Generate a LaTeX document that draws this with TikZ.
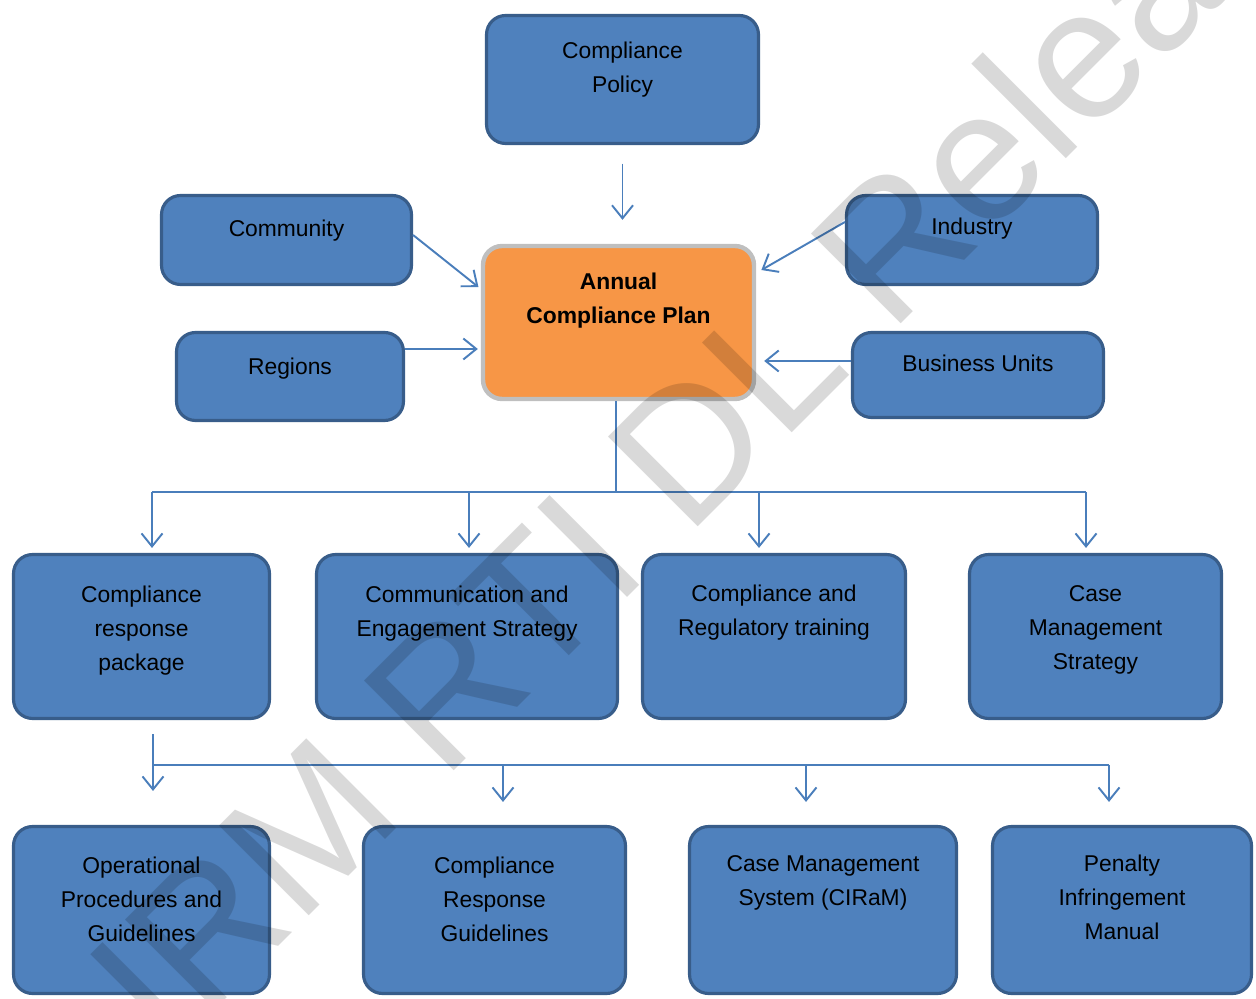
\documentclass[tikz,border=0pt]{standalone}
\usepackage{fontspec}
\setmainfont{Liberation Sans}
\usetikzlibrary{arrows.meta,positioning}

\definecolor{boxfill}{HTML}{4F81BD}
\definecolor{boxline}{HTML}{385D8A}
\definecolor{planfill}{HTML}{F79646}
\definecolor{planline}{HTML}{BFBFBF}
\definecolor{linkcol}{HTML}{4A7EBB}

\tikzset{
  box/.style={draw=boxline, fill=boxfill, line width=1.8pt, rounded corners=0.38cm, inner sep=0pt},
  plan/.style={draw=planline, fill=planfill, line width=2.5pt, rounded corners=0.38cm, inner sep=0pt},
  lbl/.style={align=center, inner sep=0pt, font=\fontsize{13}{19.3}\selectfont},
  conn/.style={draw=linkcol, line width=1.1pt},
  arr/.style={conn, -{Straight Barb[length=0.26cm, width=0.42cm]}},
  wmark/.style={text=black, text opacity=0.15, inner sep=0pt, font=\fontsize{105}{105}\selectfont}
}

\begin{document}
\begin{tikzpicture}[x=0.02cm, y=-0.02cm]
  \useasboundingbox (0,0) rectangle (1256,999);

  % top part
  \node[box, minimum width=5.44cm, minimum height=2.56cm] (policy) at (622.5,79.5) {};
  \node[plan, minimum width=5.42cm, minimum height=3.06cm] (acp) at (618.5,322.5) {};
  \node[box, minimum width=5.0cm, minimum height=1.78cm] (community) at (286.5,240) {};
  \node[box, minimum width=4.54cm, minimum height=1.76cm] (regions) at (290,376.5) {};
  \node[box, minimum width=5.02cm, minimum height=1.78cm] (industry) at (972,240) {};
  \node[box, minimum width=5.02cm, minimum height=1.70cm] (business) at (978,375) {};

  \node[lbl, below=0.56cm of policy.north] (policytxt) {Compliance\\Policy};
  \node[lbl, below=0.58cm of acp.north, font=\fontsize{13}{19.3}\selectfont\bfseries] (acptxt) {Annual\\Compliance Plan};
  \node[lbl, below=0.52cm of community.north] (communitytxt) {Community};
  \node[lbl, below=0.54cm of regions.north] (regionstxt) {Regions};
  \node[lbl, below=0.48cm of industry.north] (industrytxt) {Industry};
  \node[lbl, below=0.48cm of business.north] (businesstxt) {Business Units};

  % middle row
  \node[box, minimum width=5.12cm, minimum height=3.28cm] (crp) at (141.5,636.5) {};
  \node[box, minimum width=6.02cm, minimum height=3.28cm] (ces) at (467,636.5) {};
  \node[box, minimum width=5.26cm, minimum height=3.28cm] (crt) at (774,636.5) {};
  \node[box, minimum width=5.04cm, minimum height=3.28cm] (cms) at (1095.5,636.5) {};

  \node[lbl, below=0.66cm of crp.north] (crptxt) {Compliance\\response\\package};
  \node[lbl, below=0.66cm of ces.north] (cestxt) {Communication and\\Engagement Strategy};
  \node[lbl, below=0.64cm of crt.north] (crttxt) {Compliance and\\Regulatory training};
  \node[lbl, below=0.64cm of cms.north] (cmstxt) {Case\\Management\\Strategy};

  % bottom row
  \node[box, minimum width=5.12cm, minimum height=3.34cm] (opg) at (141.5,910) {};
  \node[box, minimum width=5.24cm, minimum height=3.34cm] (crg) at (494.5,910) {};
  \node[box, minimum width=5.34cm, minimum height=3.34cm] (cirm) at (823,910) {};
  \node[box, minimum width=5.18cm, minimum height=3.34cm] (pim) at (1122,910) {};

  \node[lbl, below=0.64cm of opg.north] (opgtxt) {Operational\\Procedures and\\Guidelines};
  \node[lbl, below=0.64cm of crg.north] (crgtxt) {Compliance\\Response\\Guidelines};
  \node[lbl, below=0.60cm of cirm.north] (cirmtxt) {Case Management\\System (CIRaM)};
  \node[lbl, below=0.60cm of pim.north] (pimtxt) {Penalty\\Infringement\\Manual};

  % inputs to the plan
  \draw[arr, shorten <=0.37cm, shorten >=0.48cm] (policy.south) -- (policy.south |- acp.north);
  \draw[arr, shorten >=0.06cm] ([yshift=0.1cm]community.east) -- ([yshift=0.67cm]acp.west);
  \draw[arr, shorten >=0.06cm] ([yshift=0.55cm]regions.east) -- ([yshift=-0.53cm]acp.west);
  \draw[arr, shorten >=0.12cm] ([yshift=0.36cm]industry.west) -- ([yshift=0.99cm]acp.east);
  \draw[arr, shorten >=0.16cm] ([yshift=0.28cm]business.west) -- ([yshift=-0.77cm]acp.east);

  % plan to middle row
  \coordinate (hub) at (616,492);
  \draw[conn] (acp.south -| hub) -- (hub);
  \foreach \n/\x [count=\i] in {crp/152, ces/469, crt/759, cms/1086}
    \coordinate (top\i) at (\x,492);
  \draw[conn] (top1) -- (top4);
  \foreach \n [count=\i] in {crp, ces, crt, cms}
    \draw[arr, shorten >=0.1cm] (top\i) -- (top\i |- \n.north);

  % middle row to bottom row
  \foreach \x [count=\i] in {153, 503, 806, 1109}
    \coordinate (bot\i) at (\x,765);
  \draw[arr, shorten <=0.28cm, shorten >=0.68cm] (bot1 |- crp.south) -- (bot1 |- opg.north);
  \draw[conn] (bot1) -- (bot4);
  \foreach \n/\i in {crg/2, cirm/3, pim/4}
    \draw[arr, shorten >=0.46cm] (bot\i) -- (bot\i |- \n.north);

  % watermark
  \begin{scope}
    \clip (0,0) rectangle (1256,999);
    \node[wmark, rotate=45, anchor=base west] (stamp) at (168,1057) {IRM RTI DL Release};
  \end{scope}
\end{tikzpicture}
\end{document}
